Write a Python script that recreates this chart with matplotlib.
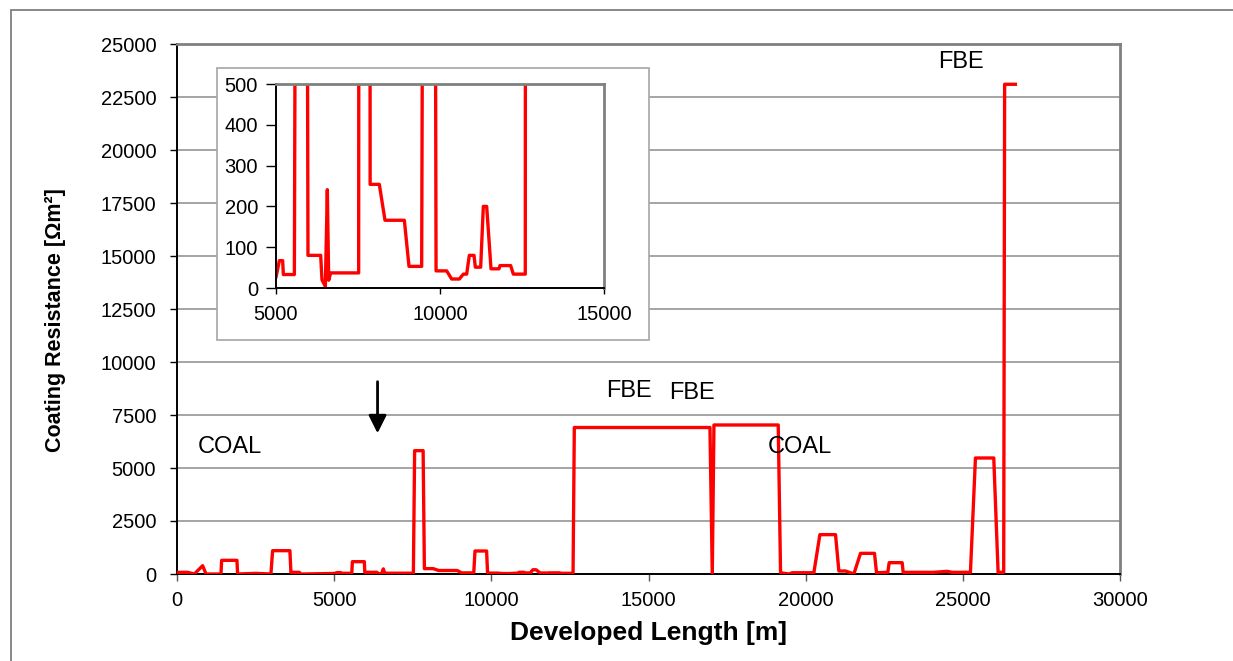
import matplotlib
matplotlib.use("Agg")
import matplotlib.pyplot as plt
from matplotlib.patches import Rectangle

plt.rcParams['font.family'] = ['Liberation Sans', 'DejaVu Sans']

# coating resistance profile along the pipeline
length_m = [42, 339, 551, 816, 922, 1399, 1420, 1907, 1928, 2500, 2988, 3041, 3592, 3624,
            3889, 3942, 4800, 5000, 5102, 5203, 5224, 5560, 5580, 5960, 5975, 6362, 6402,
            6504, 6565, 6606, 6667, 7520, 7560, 7830, 7870, 8150, 8323, 8913, 9055, 9441,
            9480, 9850, 9880, 10203, 10356, 10589, 10711, 10813, 10894, 11037, 11077, 11240,
            11321, 11423, 11555, 11799, 11829, 12154, 12236, 12600, 12640, 16955, 17029,
            17082, 19127, 19201, 19466, 19572, 20261, 20452, 20950, 21056, 21270, 21533,
            21745, 22190, 22254, 22614, 22657, 23070, 23102, 24077, 24500, 24659, 25242,
            25401, 25984, 26122, 26300, 26330, 26672]
resistance = [79, 79, 0, 393, 0, 0, 645, 645, 0, 30, 0, 1100, 1100, 79,
              79, 0, 20, 26, 67, 67, 33, 33, 582, 582, 80, 80, 20,
              4, 241, 19, 37, 37, 5817, 5817, 254, 254, 166, 166, 53, 53,
              1085, 1085, 42, 42, 22, 22, 34, 34, 80, 80, 51, 51,
              200, 200, 47, 47, 55, 55, 34, 34, 6910, 6910, 0,
              7029, 7029, 60, 0, 60, 60, 1856, 1856, 142, 142, 0,
              975, 975, 60, 80, 535, 535, 79, 79, 126, 79, 79,
              5472, 5472, 80, 80, 23100, 23100]

# coating type labels
labels = ['COAL', 'FBE', 'FBE', 'COAL', 'FBE']
label_x = [1691, 14387, 16397, 19810, 24935]
label_y = [6005, 8632, 8538, 6014, 24166]

main_xticks = [0, 5000, 10000, 15000, 20000, 25000, 30000]
main_yticks = [0, 2500, 5000, 7500, 10000, 12500, 15000, 17500, 20000, 22500, 25000]
inset_xticks = [5000, 10000, 15000]
inset_yticks = [0, 100, 200, 300, 400, 500]

arrow_x = 6380
arrow_top, arrow_tip = 9071, 6637

W, H = 1233, 661
fig = plt.figure(figsize=(W / 100, H / 100), dpi=100)

def fig_box(x0, y0, x1, y1):
    # pixel box (top-left origin) -> figure fraction rect
    return [x0 / W, 1 - y1 / H, (x1 - x0) / W, (y1 - y0) / H]

# outer frame of the chart area
fig.add_artist(Rectangle((11 / W, -0.1), 1.2, 1.1 - 10 / H, transform=fig.transFigure,
                         fill=False, ec='#7f7f7f', lw=1.3, zorder=-1))

ax = fig.add_axes(fig_box(177, 44, 1120, 574))
ax.plot(length_m, resistance, color='#ff0000', lw=2.4, zorder=3)
ax.set_xlim(0, 30000)
ax.set_ylim(0, 25000)
ax.set_xticks(main_xticks)
ax.set_yticks(main_yticks)
ax.yaxis.grid(True, color='#8c8c8c', lw=1.1)
ax.set_axisbelow(True)
for side in ['top', 'right']:
    ax.spines[side].set_color('#808080')
    ax.spines[side].set_linewidth(2)
for side in ['left', 'bottom']:
    ax.spines[side].set_color('black')
    ax.spines[side].set_linewidth(1.4)
ax.tick_params(axis='y', direction='out', length=5, width=1, pad=10, labelsize=14.5)
ax.tick_params(axis='x', direction='out', length=5, width=1, pad=7, labelsize=14.5, color='#555555')
ax.set_xlabel('Developed Length [m]', fontsize=19, fontweight='bold', labelpad=8)
fig.text(55 / W, 1 - 320 / H, 'Coating Resistance [\u03a9m\u00b2]', rotation=90,
         fontsize=15.5, fontweight='bold', ha='center', va='center')

for txt, lx, ly in zip(labels, label_x, label_y):
    ax.text(lx, ly, txt, fontsize=17, ha='center', va='center', zorder=4)

ax.annotate('', xy=(arrow_x, arrow_tip), xytext=(arrow_x, arrow_top),
            arrowprops=dict(arrowstyle='-|>,head_length=0.4,head_width=0.2',
                            mutation_scale=27, color='black', lw=2,
                            shrinkA=0, shrinkB=0), zorder=4)

# inset: zoom on the low values
fig.add_artist(Rectangle((217 / W, 1 - 340 / H), (649 - 217) / W, (340 - 68) / H,
                         transform=fig.transFigure, fc='white', ec='#a6a6a6', lw=1.2, zorder=1))
axin = fig.add_axes(fig_box(276, 84, 604, 288))
axin.set_zorder(2)
axin.plot(length_m, resistance, color='#ff0000', lw=2.4)
axin.set_xlim(5000, 15000)
axin.set_ylim(0, 500)
axin.set_xticks(inset_xticks)
axin.set_yticks(inset_yticks)
for side in ['top', 'right']:
    axin.spines[side].set_color('#808080')
    axin.spines[side].set_linewidth(2)
for side in ['left', 'bottom']:
    axin.spines[side].set_color('black')
    axin.spines[side].set_linewidth(1.4)
axin.tick_params(axis='y', direction='out', length=7, width=1, pad=6, labelsize=14.5)
axin.tick_params(axis='x', direction='out', length=4, width=1, pad=8, labelsize=14.5)

fig.savefig('out.png', dpi=100)
